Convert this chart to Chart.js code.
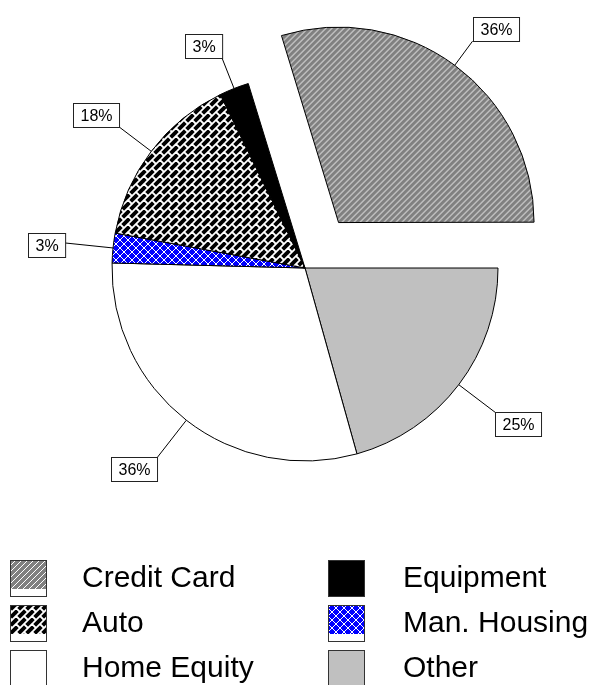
<!DOCTYPE html>
<html>
<head>
<meta charset="utf-8">
<script src="https://cdn.jsdelivr.net/npm/chart.js@4.4.1/dist/chart.umd.min.js"></script>
<style>
html, body { margin: 0; padding: 0; background: #fff; }
#wrap { width: 592px; height: 685px; }
</style>
</head>
<body>
<div id="wrap"><canvas id="loanPie" width="592" height="685"></canvas></div>
<script>
// slices in drawing order, clockwise from the pulled-out slice
var categories = ['Credit Card', 'Other', 'Home Equity', 'Man. Housing', 'Auto', 'Equipment'];
var shares = [36, 25, 36, 3, 18, 3];
var shareLabels = ['36%', '25%', '36%', '3%', '18%', '3%'];
// legend reads row by row in two columns
var legendOrder = ['Credit Card', 'Equipment', 'Auto', 'Man. Housing', 'Home Equity', 'Other'];

// leader line length for each slice label (px)
var leaderLen = [30, 46, 47, 48, 40, 33];

// build the fill patterns
function makePattern(kind) {
    var c = document.createElement('canvas');
    var g = c.getContext('2d');
    var i, j, s;
    if (kind == 'hatch') {
        c.width = 6; c.height = 6;
        g.fillStyle = '#808080';
        g.fillRect(0, 0, 6, 6);
        g.strokeStyle = '#fff';
        g.lineWidth = 1;
        for (i = -1; i <= 1; i++) {
            g.beginPath();
            g.moveTo(i * 6, 6);
            g.lineTo(i * 6 + 6, 0);
            g.stroke();
        }
    } else if (kind == 'brick') {
        c.width = 16; c.height = 16;
        g.fillStyle = '#000';
        g.fillRect(0, 0, 16, 16);
        g.strokeStyle = '#fff';
        g.lineWidth = 1.8;
        // rows of bricks along the / direction
        for (s = -32; s <= 64; s += 8) {
            g.beginPath();
            g.moveTo(s + 24, -24);
            g.lineTo(s - 24, 24);
            g.stroke();
            var r = Math.round(s / 8);
            var base = (Math.abs(r) % 2 == 1) ? 8 : 0;
            for (j = -4; j <= 4; j++) {
                var d = base + 16 * j;
                g.beginPath();
                g.moveTo((s + d) / 2, (s - d) / 2);
                g.lineTo((s + 8 + d) / 2, (s + 8 - d) / 2);
                g.stroke();
            }
        }
    } else if (kind == 'cross') {
        c.width = 8; c.height = 8;
        g.fillStyle = '#0000ff';
        g.fillRect(0, 0, 8, 8);
        g.strokeStyle = '#fff';
        g.lineWidth = 1;
        for (i = -1; i <= 1; i++) {
            g.beginPath();
            g.moveTo(i * 8, 8); g.lineTo(i * 8 + 8, 0);
            g.moveTo(i * 8, 0); g.lineTo(i * 8 + 8, 8);
            g.stroke();
        }
    }
    return g.createPattern(c, 'repeat');
}

var canvas = document.getElementById('loanPie');
var ctx = canvas.getContext('2d');

var fills = {
    'Credit Card': makePattern('hatch'),
    'Other': '#c0c0c0',
    'Home Equity': '#ffffff',
    'Man. Housing': makePattern('cross'),
    'Auto': makePattern('brick'),
    'Equipment': '#000000'
};
var patterned = ['Credit Card', 'Auto', 'Man. Housing'];

// which side of the box the leader line meets
function anchor(v, mid) {
    if (v > 0.3) return 0;
    if (v < -0.3) return 1;
    return mid;
}

// percentage boxes with leader lines
var shareLabelPlugin = {
    id: 'shareLabels',
    afterDatasetsDraw: function(chart) {
        var c = chart.ctx;
        var arcs = chart.getDatasetMeta(0).data;
        c.save();
        c.font = '16px "Liberation Sans", Arial, sans-serif';
        c.textBaseline = 'middle';
        c.textAlign = 'center';
        for (var i = 0; i < arcs.length; i++) {
            var a = arcs[i];
            var mid = (a.startAngle + a.endAngle) / 2;
            var off = (a.options.offset || 0) / 4;
            var shift = off * (2 - Math.sin(Math.min(Math.PI, a.endAngle - a.startAngle)));
            var dx = Math.cos(mid), dy = Math.sin(mid);
            var r0 = a.outerRadius + shift;
            var r1 = r0 + leaderLen[i];
            var px = a.x + dx * r0, py = a.y + dy * r0;
            var ex = a.x + dx * r1, ey = a.y + dy * r1;
            c.strokeStyle = '#000';
            c.lineWidth = 1;
            c.beginPath();
            c.moveTo(px, py);
            c.lineTo(ex, ey);
            c.stroke();
            var w = c.measureText(shareLabels[i]).width + 14;
            var h = 24;
            var bx = Math.round(ex - anchor(dx, 0.5) * w) + 0.5;
            var by = Math.round(ey - anchor(dy, 0.4) * h) + 0.5;
            c.fillStyle = '#fff';
            c.fillRect(bx, by, w, h);
            c.strokeStyle = '#222';
            c.strokeRect(bx, by, w, h);
            c.fillStyle = '#000';
            c.fillText(shareLabels[i], bx + w / 2, by + h / 2 + 1);
        }
        c.restore();
    }
};

// two-column legend under the pie
var legendPlugin = {
    id: 'gridLegend',
    afterDraw: function(chart) {
        var c = chart.ctx;
        var colX = [10, 328];
        var textX = [82, 403];
        var rowY = [560, 605, 650];
        c.save();
        c.font = '30px "Liberation Sans", Arial, sans-serif';
        c.textBaseline = 'middle';
        c.textAlign = 'left';
        for (var k = 0; k < legendOrder.length; k++) {
            var name = legendOrder[k];
            var x = colX[k % 2], y = rowY[Math.floor(k / 2)];
            var w = 36, h = 36;
            c.fillStyle = '#fff';
            c.fillRect(x, y, w, h);
            c.fillStyle = fills[name];
            if (patterned.indexOf(name) >= 0) {
                c.fillRect(x, y, w, h - 7);
            } else {
                c.fillRect(x, y, w, h);
            }
            c.strokeStyle = '#333';
            c.lineWidth = 1;
            c.strokeRect(x + 0.5, y + 0.5, w, h);
            c.fillStyle = '#000';
            c.fillText(name, textX[k % 2], y + h / 2 + 1);
        }
        c.restore();
    }
};

var pieChart = new Chart(ctx, {
    type: 'pie',
    data: {
        labels: categories,
        datasets: [{
            data: shares,
            backgroundColor: categories.map(function(n) { return fills[n]; }),
            borderColor: '#000',
            borderWidth: 1,
            offset: [226, 0, 0, 0, 0, 0]
        }]
    },
    options: {
        responsive: false,
        animation: false,
        events: [],
        rotation: -17.1,
        radius: 193,
        layout: { padding: { left: 18, right: 0, top: 0, bottom: 149 } },
        plugins: {
            legend: { display: false },
            tooltip: { enabled: false }
        }
    },
    plugins: [shareLabelPlugin, legendPlugin]
});
</script>
</body>
</html>
